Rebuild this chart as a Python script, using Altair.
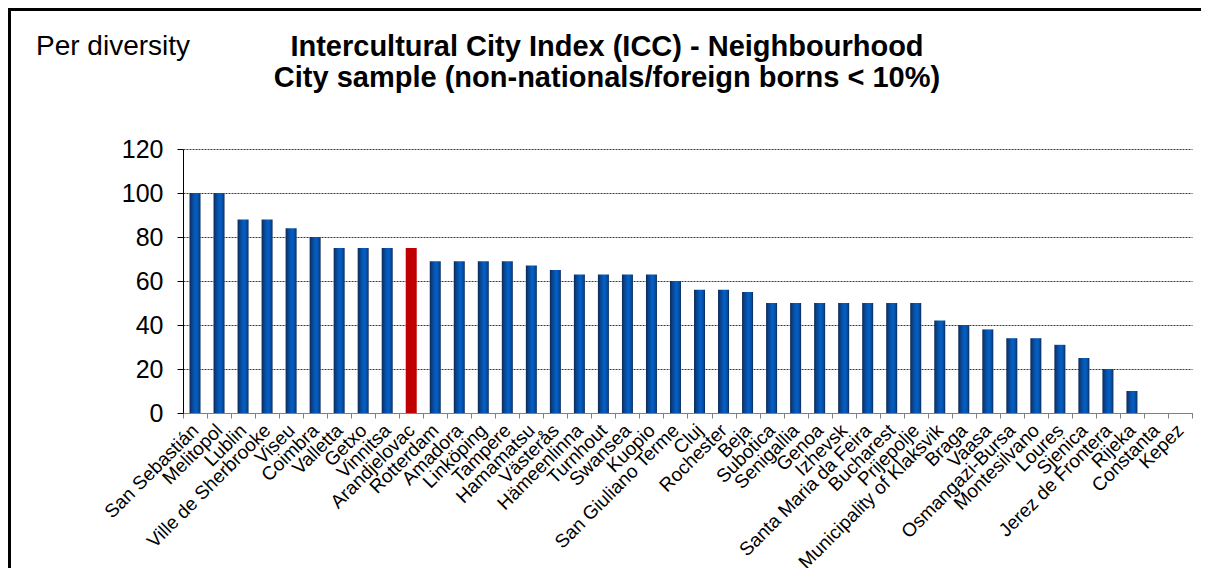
import altair as alt
import pandas as pd

cities = ["San Sebastián", "Melitopol", "Lublin", "Ville de Sherbrooke", "Viseu", "Coimbra",
          "Valletta", "Getxo", "Vinnitsa", "Arandjelovac", "Rotterdam", "Amadora", "Linköping",
          "Tampere", "Hamamatsu", "Västerås", "Hämeenlinna", "Turnhout", "Swansea", "Kuopio",
          "San Giuliano Terme", "Cluj", "Rochester", "Beja", "Subotica", "Senigallia", "Genoa",
          "Izhevsk", "Santa Maria da Feira", "Bucharest", "Prijepolje", "Municipality of Klaksvik",
          "Braga", "Vaasa", "Osmangazi-Bursa", "Montesilvano", "Loures", "Sjenica",
          "Jerez de Frontera", "Rijeka", "Constanta", "Kepez"]
values = [100, 100, 88, 88, 84, 80, 75, 75, 75, 75, 69, 69, 69, 69, 67, 65, 63, 63, 63, 63,
          60, 56, 56, 55, 50, 50, 50, 50, 50, 50, 50, 42, 40, 38, 34, 34, 31, 25, 20, 10, 0, 0]
highlight = ["Arandjelovac"]
y_ticks = [0, 20, 40, 60, 80, 100, 120]

title_lines = ["Intercultural City Index (ICC) - Neighbourhood",
               "City sample (non-nationals/foreign borns < 10%)"]
corner_label = "Per diversity"

df = pd.DataFrame({"city": cities, "value": values})
df["hl"] = df["city"].isin(highlight)

FONT = "Liberation Sans"
W, H = 1009, 264

x_enc = alt.X("city:N", sort=cities, title=None,
              scale=alt.Scale(paddingInner=0, paddingOuter=0),
              axis=alt.Axis(labelAngle=-45, labelAlign="right", labelBaseline="middle",
                            labelFont=FONT, labelFontSize=19, labelColor="black",
                            labelPadding=9, labelOverlap=False, labelLimit=0,
                            tickBand="extent",
                            tickSize=5, tickColor="#808080", domainColor="#808080",
                            grid=False))
y_enc = alt.Y("value:Q", title=None,
              scale=alt.Scale(domain=[0, 120], nice=False),
              axis=alt.Axis(values=y_ticks, labelFont=FONT, labelFontSize=25,
                            labelColor="black", labelPadding=14, tickSize=6,
                            tickColor="black", domainColor="black",
                            gridColor="#3a3a3a", gridDash=[2, 1], gridWidth=1))

grad = alt.Gradient(gradient="linear", x1=0, x2=1, y1=0, y2=0,
                    stops=[alt.GradientStop(color="#0d2a55", offset=0),
                           alt.GradientStop(color="#0a4a9c", offset=0.3),
                           alt.GradientStop(color="#0062c8", offset=0.6),
                           alt.GradientStop(color="#0a4a9c", offset=0.85),
                           alt.GradientStop(color="#0d2a55", offset=1)])

blue = alt.Chart(df).transform_filter("!datum.hl").mark_bar(size=11, color=grad).encode(
    x=x_enc, y=y_enc)
red = alt.Chart(df).transform_filter("datum.hl").mark_bar(size=11, color="#c00000").encode(
    x=x_enc, y=y_enc)

t1 = alt.Chart(pd.DataFrame({"t": [title_lines[0]]})).mark_text(
    font=FONT, fontSize=29, fontWeight="bold", align="center", baseline="alphabetic",
    color="black").encode(text="t:N", x=alt.value(607 - 183), y=alt.value(56 - 149))
t2 = alt.Chart(pd.DataFrame({"t": [title_lines[1]]})).mark_text(
    font=FONT, fontSize=29, fontWeight="bold", align="center", baseline="alphabetic",
    color="black").encode(text="t:N", x=alt.value(607 - 183), y=alt.value(87 - 149))
t3 = alt.Chart(pd.DataFrame({"t": [corner_label]})).mark_text(
    font=FONT, fontSize=28, align="left", baseline="alphabetic",
    color="black").encode(text="t:N", x=alt.value(36 - 183), y=alt.value(55 - 149))

border_top = alt.Chart(pd.DataFrame({"a": [0]})).mark_rule(
    color="black", strokeWidth=3, strokeCap="butt").encode(
    x=alt.value(-175), x2=alt.value(1018), y=alt.value(-139.5), y2=alt.value(-139.5))
border_left = alt.Chart(pd.DataFrame({"a": [0]})).mark_rule(
    color="black", strokeWidth=3, strokeCap="butt").encode(
    x=alt.value(-173.5), x2=alt.value(-173.5), y=alt.value(-141), y2=alt.value(430))

chart = alt.layer(blue, red, t1, t2, t3, border_top, border_left).properties(
    width=W, height=H,
    autosize=alt.AutoSizeParams(type="none"),
    padding={"left": 175, "top": 141, "right": 9, "bottom": 155},
    background="white",
).configure_view(stroke=None)

chart.save("out.html", embed_options={"renderer": "svg", "actions": False})
